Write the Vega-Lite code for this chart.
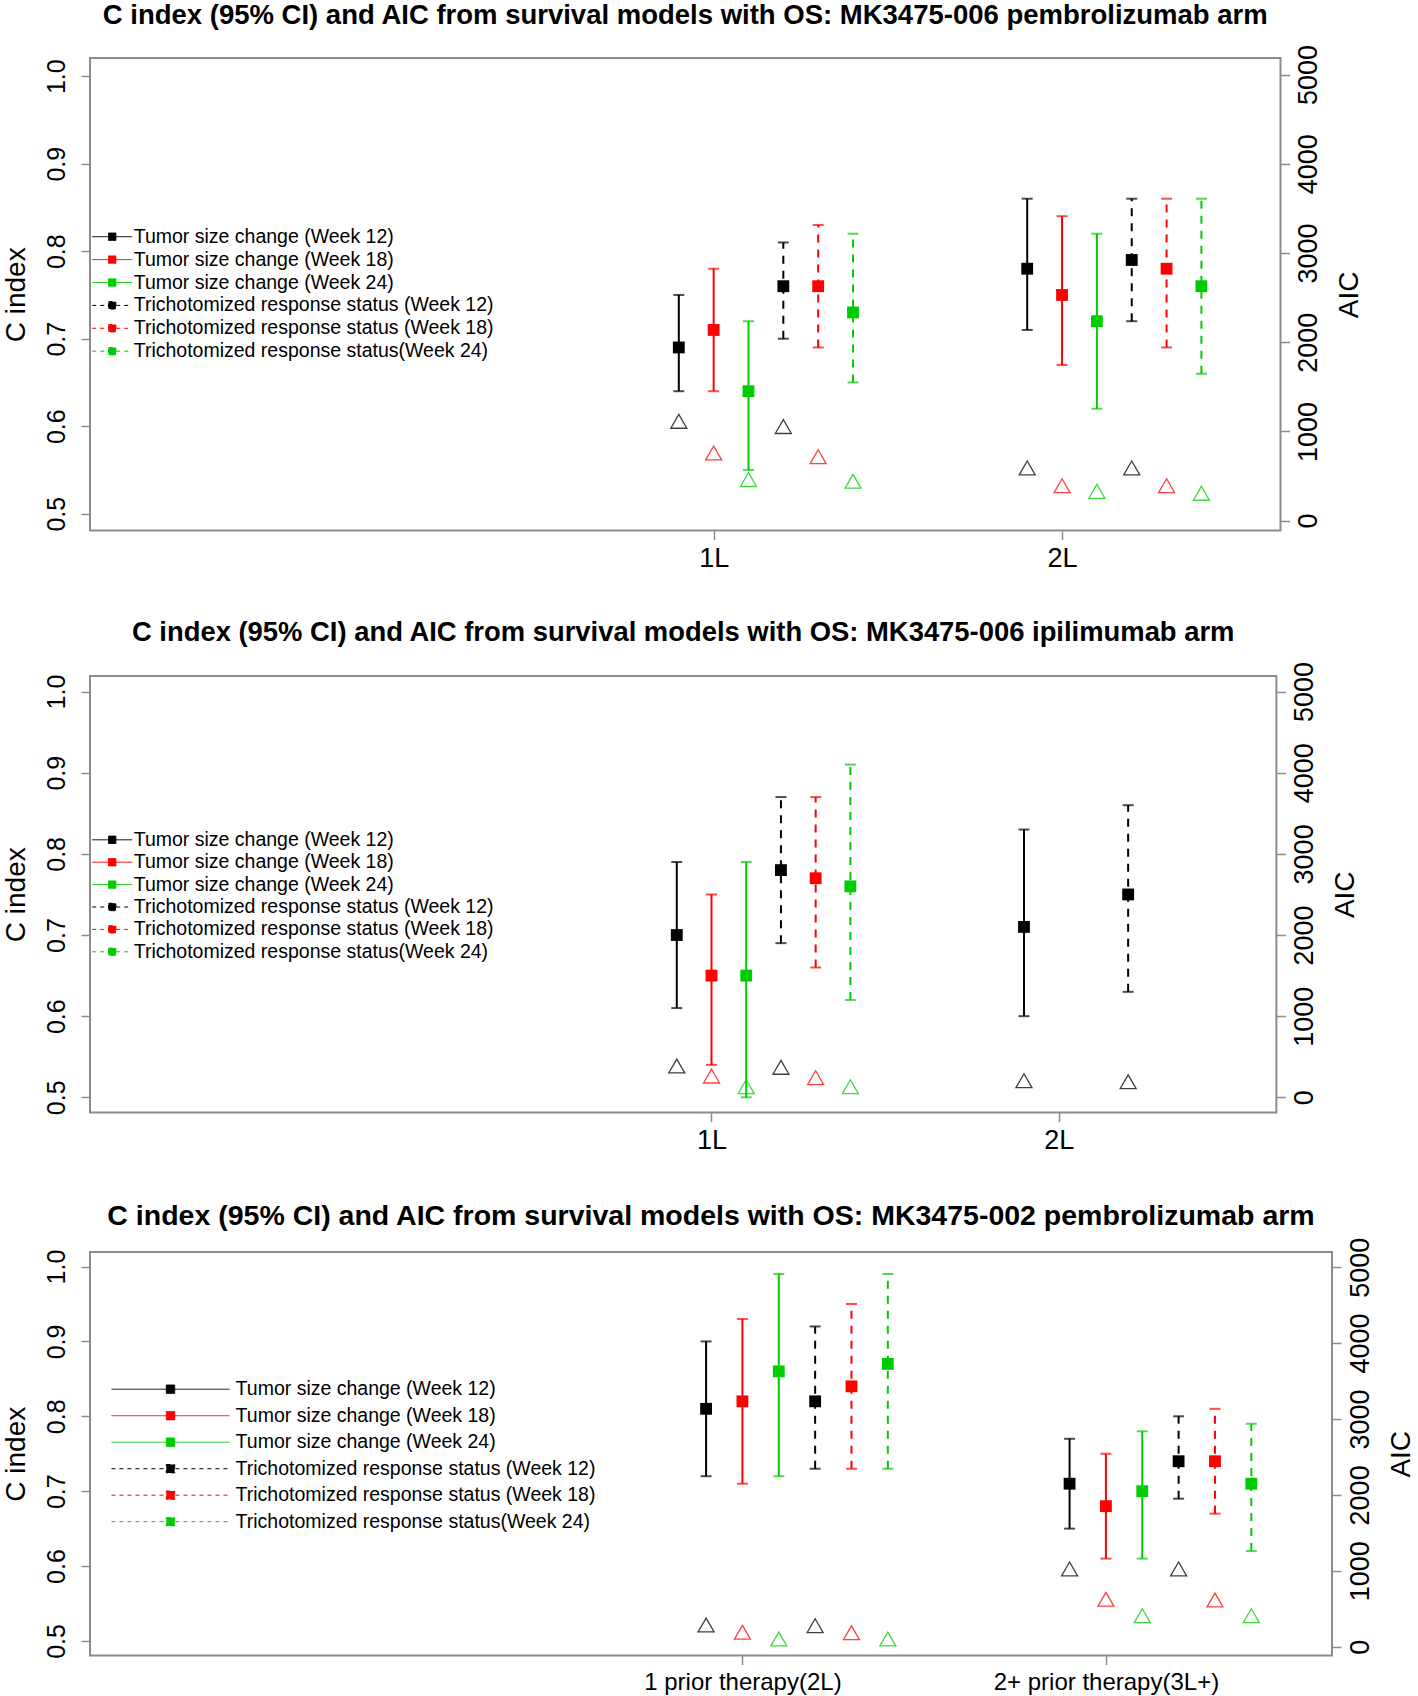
{
  "$schema": "https://vega.github.io/schema/vega-lite/v6.json",
  "padding": {"left": 1, "top": 1, "right": 0, "bottom": 0},
  "columns": 1,
  "align": "none",
  "spacing": 45,
  "datasets": {
    "p1": [
      {"grp": "1L", "x": 0.9, "kind": "Tumor", "series": "Tumor size change (Week 12)", "c": 0.69, "lo": 0.64, "hi": 0.75, "aic": 1113},
      {"grp": "1L", "x": 1.0, "kind": "Tumor", "series": "Tumor size change (Week 18)", "c": 0.71, "lo": 0.64, "hi": 0.78, "aic": 759},
      {"grp": "1L", "x": 1.1, "kind": "Tumor", "series": "Tumor size change (Week 24)", "c": 0.64, "lo": 0.55, "hi": 0.72, "aic": 460},
      {"grp": "1L", "x": 1.2, "kind": "Trich", "series": "Trichotomized response status (Week 12)", "c": 0.76, "lo": 0.70, "hi": 0.81, "aic": 1054},
      {"grp": "1L", "x": 1.3, "kind": "Trich", "series": "Trichotomized response status (Week 18)", "c": 0.76, "lo": 0.69, "hi": 0.83, "aic": 717},
      {"grp": "1L", "x": 1.4, "kind": "Trich", "series": "Trichotomized response status(Week 24)", "c": 0.73, "lo": 0.65, "hi": 0.82, "aic": 441},
      {"grp": "2L", "x": 1.9, "kind": "Tumor", "series": "Tumor size change (Week 12)", "c": 0.78, "lo": 0.71, "hi": 0.86, "aic": 591},
      {"grp": "2L", "x": 2.0, "kind": "Tumor", "series": "Tumor size change (Week 18)", "c": 0.75, "lo": 0.67, "hi": 0.84, "aic": 392},
      {"grp": "2L", "x": 2.1, "kind": "Tumor", "series": "Tumor size change (Week 24)", "c": 0.72, "lo": 0.62, "hi": 0.82, "aic": 328},
      {"grp": "2L", "x": 2.2, "kind": "Trich", "series": "Trichotomized response status (Week 12)", "c": 0.79, "lo": 0.72, "hi": 0.86, "aic": 591},
      {"grp": "2L", "x": 2.3, "kind": "Trich", "series": "Trichotomized response status (Week 18)", "c": 0.78, "lo": 0.69, "hi": 0.86, "aic": 392},
      {"grp": "2L", "x": 2.4, "kind": "Trich", "series": "Trichotomized response status(Week 24)", "c": 0.76, "lo": 0.66, "hi": 0.86, "aic": 306}
    ],
    "p2": [
      {"grp": "1L", "x": 0.9, "kind": "Tumor", "series": "Tumor size change (Week 12)", "c": 0.70, "lo": 0.61, "hi": 0.79, "aic": 386},
      {"grp": "1L", "x": 1.0, "kind": "Tumor", "series": "Tumor size change (Week 18)", "c": 0.65, "lo": 0.54, "hi": 0.75, "aic": 262},
      {"grp": "1L", "x": 1.1, "kind": "Tumor", "series": "Tumor size change (Week 24)", "c": 0.65, "lo": 0.50, "hi": 0.79, "aic": 131},
      {"grp": "1L", "x": 1.2, "kind": "Trich", "series": "Trichotomized response status (Week 12)", "c": 0.78, "lo": 0.69, "hi": 0.87, "aic": 370},
      {"grp": "1L", "x": 1.3, "kind": "Trich", "series": "Trichotomized response status (Week 18)", "c": 0.77, "lo": 0.66, "hi": 0.87, "aic": 242},
      {"grp": "1L", "x": 1.4, "kind": "Trich", "series": "Trichotomized response status(Week 24)", "c": 0.76, "lo": 0.62, "hi": 0.91, "aic": 131},
      {"grp": "2L", "x": 1.9, "kind": "Tumor", "series": "Tumor size change (Week 12)", "c": 0.71, "lo": 0.60, "hi": 0.83, "aic": 205},
      {"grp": "2L", "x": 2.2, "kind": "Trich", "series": "Trichotomized response status (Week 12)", "c": 0.75, "lo": 0.63, "hi": 0.86, "aic": 192}
    ],
    "p3": [
      {"grp": "1 prior therapy(2L)", "x": 0.9, "kind": "Tumor", "series": "Tumor size change (Week 12)", "c": 0.81, "lo": 0.72, "hi": 0.90, "aic": 286},
      {"grp": "1 prior therapy(2L)", "x": 1.0, "kind": "Tumor", "series": "Tumor size change (Week 18)", "c": 0.82, "lo": 0.71, "hi": 0.93, "aic": 190},
      {"grp": "1 prior therapy(2L)", "x": 1.1, "kind": "Tumor", "series": "Tumor size change (Week 24)", "c": 0.86, "lo": 0.72, "hi": 0.99, "aic": 101},
      {"grp": "1 prior therapy(2L)", "x": 1.2, "kind": "Trich", "series": "Trichotomized response status (Week 12)", "c": 0.82, "lo": 0.73, "hi": 0.92, "aic": 277},
      {"grp": "1 prior therapy(2L)", "x": 1.3, "kind": "Trich", "series": "Trichotomized response status (Week 18)", "c": 0.84, "lo": 0.73, "hi": 0.95, "aic": 184},
      {"grp": "1 prior therapy(2L)", "x": 1.4, "kind": "Trich", "series": "Trichotomized response status(Week 24)", "c": 0.87, "lo": 0.73, "hi": 0.99, "aic": 101},
      {"grp": "2+ prior therapy(3L+)", "x": 1.9, "kind": "Tumor", "series": "Tumor size change (Week 12)", "c": 0.71, "lo": 0.65, "hi": 0.77, "aic": 1024},
      {"grp": "2+ prior therapy(3L+)", "x": 2.0, "kind": "Tumor", "series": "Tumor size change (Week 18)", "c": 0.68, "lo": 0.61, "hi": 0.75, "aic": 625},
      {"grp": "2+ prior therapy(3L+)", "x": 2.1, "kind": "Tumor", "series": "Tumor size change (Week 24)", "c": 0.70, "lo": 0.61, "hi": 0.78, "aic": 408},
      {"grp": "2+ prior therapy(3L+)", "x": 2.2, "kind": "Trich", "series": "Trichotomized response status (Week 12)", "c": 0.74, "lo": 0.69, "hi": 0.80, "aic": 1024},
      {"grp": "2+ prior therapy(3L+)", "x": 2.3, "kind": "Trich", "series": "Trichotomized response status (Week 18)", "c": 0.74, "lo": 0.67, "hi": 0.81, "aic": 615},
      {"grp": "2+ prior therapy(3L+)", "x": 2.4, "kind": "Trich", "series": "Trichotomized response status(Week 24)", "c": 0.71, "lo": 0.62, "hi": 0.79, "aic": 408}
    ]
  },
  "concat": [
    {
      "width": 1190.5,
      "height": 472.6,
      "title": {"text": "C index (95% CI) and AIC from survival models with OS: MK3475-006 pembrolizumab arm", "offset": 15, "fontSize": 27.5},
      "data": {"name": "p1"},
      "encoding": {
        "x": {"field": "x", "type": "quantitative", "scale": {"domain": [-0.79, 2.627], "nice": false, "zero": false}, "axis": {"values": [1, 2], "labelExpr": "datum.value == 1 ? '1L' : '2L'", "title": null}}
      },
      "layer": [
        {
          "layer": [
            {"transform": [{"filter": "datum.kind == 'Tumor'"}], "mark": {"type": "rule", "strokeWidth": 2},
             "encoding": {
               "y": {"field": "lo", "type": "quantitative", "scale": {"domain": [0.4807, 1.0208], "nice": false, "zero": false}, "axis": {"title": "C index", "values": [0.5, 0.6, 0.7, 0.8, 0.9, 1.0], "format": ".1f"}},
               "y2": {"field": "hi"},
               "color": {"field": "series", "type": "nominal", "scale": {"domain": ["Tumor size change (Week 12)", "Tumor size change (Week 18)", "Tumor size change (Week 24)", "Trichotomized response status (Week 12)", "Trichotomized response status (Week 18)", "Trichotomized response status(Week 24)"], "range": ["#000000", "#FF0000", "#00CD00", "#000000", "#FF0000", "#00CD00"]},
                 "legend": {"title": null, "orient": "none", "legendX": 1.7, "legendY": 168.2, "direction": "vertical", "padding": 0, "symbolType": "M-1,0L3,0M0.63,-0.37L1.37,-0.37L1.37,0.37L0.63,0.37Z", "symbolSize": 400, "symbolStrokeWidth": 1, "labelFontSize": 19.5, "labelColor": "#000000", "labelOffset": 21, "labelLimit": 800, "rowPadding": 2.9,
                   "encode": {"symbols": {"update": {"fill": {"signal": "indexof(datum.value,'12')>=0 ? '#000000' : indexof(datum.value,'18')>=0 ? '#FF0000' : '#00CD00'"}, "stroke": {"signal": "indexof(datum.value,'12')>=0 ? '#000000' : indexof(datum.value,'18')>=0 ? '#FF0000' : '#00CD00'"}, "strokeDash": {"signal": "indexof(datum.value,'Tricho')>=0 ? [4,4] : [1,0]"}, "strokeWidth": {"value": 1}, "opacity": {"value": 1}}}}}}
             }},
            {"transform": [{"filter": "datum.kind == 'Trich'"}], "mark": {"type": "rule", "strokeWidth": 2, "strokeDash": [8, 7]},
             "encoding": {
               "y": {"field": "lo", "type": "quantitative", "scale": {"domain": [0.4807, 1.0208], "nice": false, "zero": false}, "axis": {"title": "C index", "values": [0.5, 0.6, 0.7, 0.8, 0.9, 1.0], "format": ".1f"}},
               "y2": {"field": "hi"},
               "color": {"field": "series", "type": "nominal", "scale": {"domain": ["Tumor size change (Week 12)", "Tumor size change (Week 18)", "Tumor size change (Week 24)", "Trichotomized response status (Week 12)", "Trichotomized response status (Week 18)", "Trichotomized response status(Week 24)"], "range": ["#000000", "#FF0000", "#00CD00", "#000000", "#FF0000", "#00CD00"]}, "legend": null}
             }},
            {"mark": {"type": "tick", "orient": "horizontal", "size": 11, "thickness": 2},
             "encoding": {
               "y": {"field": "lo", "type": "quantitative", "scale": {"domain": [0.4807, 1.0208], "nice": false, "zero": false}, "axis": {"title": "C index", "values": [0.5, 0.6, 0.7, 0.8, 0.9, 1.0], "format": ".1f"}},
               "color": {"field": "series", "type": "nominal", "scale": {"domain": ["Tumor size change (Week 12)", "Tumor size change (Week 18)", "Tumor size change (Week 24)", "Trichotomized response status (Week 12)", "Trichotomized response status (Week 18)", "Trichotomized response status(Week 24)"], "range": ["#000000", "#FF0000", "#00CD00", "#000000", "#FF0000", "#00CD00"]}, "legend": null}
             }},
            {"mark": {"type": "tick", "orient": "horizontal", "size": 11, "thickness": 2},
             "encoding": {
               "y": {"field": "hi", "type": "quantitative", "scale": {"domain": [0.4807, 1.0208], "nice": false, "zero": false}, "axis": {"title": "C index", "values": [0.5, 0.6, 0.7, 0.8, 0.9, 1.0], "format": ".1f"}},
               "color": {"field": "series", "type": "nominal", "scale": {"domain": ["Tumor size change (Week 12)", "Tumor size change (Week 18)", "Tumor size change (Week 24)", "Trichotomized response status (Week 12)", "Trichotomized response status (Week 18)", "Trichotomized response status(Week 24)"], "range": ["#000000", "#FF0000", "#00CD00", "#000000", "#FF0000", "#00CD00"]}, "legend": null}
             }},
            {"mark": {"type": "point", "shape": "square", "filled": true, "size": 140, "opacity": 1},
             "encoding": {
               "y": {"field": "c", "type": "quantitative", "scale": {"domain": [0.4807, 1.0208], "nice": false, "zero": false}, "axis": {"title": "C index", "values": [0.5, 0.6, 0.7, 0.8, 0.9, 1.0], "format": ".1f"}},
               "color": {"field": "series", "type": "nominal", "scale": {"domain": ["Tumor size change (Week 12)", "Tumor size change (Week 18)", "Tumor size change (Week 24)", "Trichotomized response status (Week 12)", "Trichotomized response status (Week 18)", "Trichotomized response status(Week 24)"], "range": ["#000000", "#FF0000", "#00CD00", "#000000", "#FF0000", "#00CD00"]}, "legend": null}
             }}
          ]
        },
        {"mark": {"type": "point", "shape": "triangle-up", "filled": false, "size": 256, "strokeWidth": 1.3, "opacity": 0.75},
         "encoding": {
           "y": {"field": "aic", "type": "quantitative", "scale": {"domain": [-112, 5186], "nice": false, "zero": false}, "axis": {"orient": "right", "title": "AIC", "values": [0, 1000, 2000, 3000, 4000, 5000], "format": "d"}},
           "color": {"field": "series", "type": "nominal", "scale": {"domain": ["Tumor size change (Week 12)", "Tumor size change (Week 18)", "Tumor size change (Week 24)", "Trichotomized response status (Week 12)", "Trichotomized response status (Week 18)", "Trichotomized response status(Week 24)"], "range": ["#000000", "#FF0000", "#00CD00", "#000000", "#FF0000", "#00CD00"]}, "legend": null}
         }}
      ],
      "resolve": {"scale": {"y": "independent"}}
    },
    {
      "width": 1186.4,
      "height": 436.5,
      "title": {"text": "C index (95% CI) and AIC from survival models with OS: MK3475-006 ipilimumab arm", "offset": 15, "fontSize": 27.4},
      "data": {"name": "p2"},
      "encoding": {
        "x": {"field": "x", "type": "quantitative", "scale": {"domain": [-0.79, 2.627], "nice": false, "zero": false}, "axis": {"values": [1, 2], "labelExpr": "datum.value == 1 ? '1L' : '2L'", "title": null}}
      },
      "layer": [
        {
          "layer": [
            {"transform": [{"filter": "datum.kind == 'Tumor'"}], "mark": {"type": "rule", "strokeWidth": 2},
             "encoding": {
               "y": {"field": "lo", "type": "quantitative", "scale": {"domain": [0.4813, 1.0192], "nice": false, "zero": false}, "axis": {"title": "C index", "values": [0.5, 0.6, 0.7, 0.8, 0.9, 1.0], "format": ".1f"}},
               "y2": {"field": "hi"},
               "color": {"field": "series", "type": "nominal", "scale": {"domain": ["Tumor size change (Week 12)", "Tumor size change (Week 18)", "Tumor size change (Week 24)", "Trichotomized response status (Week 12)", "Trichotomized response status (Week 18)", "Trichotomized response status(Week 24)"], "range": ["#000000", "#FF0000", "#00CD00", "#000000", "#FF0000", "#00CD00"]},
                 "legend": {"title": null, "orient": "none", "legendX": 1.7, "legendY": 153.3, "direction": "vertical", "padding": 0, "symbolType": "M-1,0L3,0M0.63,-0.37L1.37,-0.37L1.37,0.37L0.63,0.37Z", "symbolSize": 400, "symbolStrokeWidth": 1, "labelFontSize": 19.5, "labelColor": "#000000", "labelOffset": 21, "labelLimit": 800, "rowPadding": 2.4,
                   "encode": {"symbols": {"update": {"fill": {"signal": "indexof(datum.value,'12')>=0 ? '#000000' : indexof(datum.value,'18')>=0 ? '#FF0000' : '#00CD00'"}, "stroke": {"signal": "indexof(datum.value,'12')>=0 ? '#000000' : indexof(datum.value,'18')>=0 ? '#FF0000' : '#00CD00'"}, "strokeDash": {"signal": "indexof(datum.value,'Tricho')>=0 ? [4,4] : [1,0]"}, "strokeWidth": {"value": 1}, "opacity": {"value": 1}}}}}}
             }},
            {"transform": [{"filter": "datum.kind == 'Trich'"}], "mark": {"type": "rule", "strokeWidth": 2, "strokeDash": [8, 7]},
             "encoding": {
               "y": {"field": "lo", "type": "quantitative", "scale": {"domain": [0.4813, 1.0192], "nice": false, "zero": false}, "axis": {"title": "C index", "values": [0.5, 0.6, 0.7, 0.8, 0.9, 1.0], "format": ".1f"}},
               "y2": {"field": "hi"},
               "color": {"field": "series", "type": "nominal", "scale": {"domain": ["Tumor size change (Week 12)", "Tumor size change (Week 18)", "Tumor size change (Week 24)", "Trichotomized response status (Week 12)", "Trichotomized response status (Week 18)", "Trichotomized response status(Week 24)"], "range": ["#000000", "#FF0000", "#00CD00", "#000000", "#FF0000", "#00CD00"]}, "legend": null}
             }},
            {"mark": {"type": "tick", "orient": "horizontal", "size": 11, "thickness": 2},
             "encoding": {
               "y": {"field": "lo", "type": "quantitative", "scale": {"domain": [0.4813, 1.0192], "nice": false, "zero": false}, "axis": {"title": "C index", "values": [0.5, 0.6, 0.7, 0.8, 0.9, 1.0], "format": ".1f"}},
               "color": {"field": "series", "type": "nominal", "scale": {"domain": ["Tumor size change (Week 12)", "Tumor size change (Week 18)", "Tumor size change (Week 24)", "Trichotomized response status (Week 12)", "Trichotomized response status (Week 18)", "Trichotomized response status(Week 24)"], "range": ["#000000", "#FF0000", "#00CD00", "#000000", "#FF0000", "#00CD00"]}, "legend": null}
             }},
            {"mark": {"type": "tick", "orient": "horizontal", "size": 11, "thickness": 2},
             "encoding": {
               "y": {"field": "hi", "type": "quantitative", "scale": {"domain": [0.4813, 1.0192], "nice": false, "zero": false}, "axis": {"title": "C index", "values": [0.5, 0.6, 0.7, 0.8, 0.9, 1.0], "format": ".1f"}},
               "color": {"field": "series", "type": "nominal", "scale": {"domain": ["Tumor size change (Week 12)", "Tumor size change (Week 18)", "Tumor size change (Week 24)", "Trichotomized response status (Week 12)", "Trichotomized response status (Week 18)", "Trichotomized response status(Week 24)"], "range": ["#000000", "#FF0000", "#00CD00", "#000000", "#FF0000", "#00CD00"]}, "legend": null}
             }},
            {"mark": {"type": "point", "shape": "square", "filled": true, "size": 140, "opacity": 1},
             "encoding": {
               "y": {"field": "c", "type": "quantitative", "scale": {"domain": [0.4813, 1.0192], "nice": false, "zero": false}, "axis": {"title": "C index", "values": [0.5, 0.6, 0.7, 0.8, 0.9, 1.0], "format": ".1f"}},
               "color": {"field": "series", "type": "nominal", "scale": {"domain": ["Tumor size change (Week 12)", "Tumor size change (Week 18)", "Tumor size change (Week 24)", "Trichotomized response status (Week 12)", "Trichotomized response status (Week 18)", "Trichotomized response status(Week 24)"], "range": ["#000000", "#FF0000", "#00CD00", "#000000", "#FF0000", "#00CD00"]}, "legend": null}
             }}
          ]
        },
        {"mark": {"type": "point", "shape": "triangle-up", "filled": false, "size": 256, "strokeWidth": 1.3, "opacity": 0.75},
         "encoding": {
           "y": {"field": "aic", "type": "quantitative", "scale": {"domain": [-187, 5192], "nice": false, "zero": false}, "axis": {"orient": "right", "title": "AIC", "values": [0, 1000, 2000, 3000, 4000, 5000], "format": "d"}},
           "color": {"field": "series", "type": "nominal", "scale": {"domain": ["Tumor size change (Week 12)", "Tumor size change (Week 18)", "Tumor size change (Week 24)", "Trichotomized response status (Week 12)", "Trichotomized response status (Week 18)", "Trichotomized response status(Week 24)"], "range": ["#000000", "#FF0000", "#00CD00", "#000000", "#FF0000", "#00CD00"]}, "legend": null}
         }}
      ],
      "resolve": {"scale": {"y": "independent"}}
    },
    {
      "width": 1242,
      "height": 403.5,
      "title": {"text": "C index (95% CI) and AIC from survival models with OS: MK3475-002 pembrolizumab arm", "offset": 7, "fontSize": 28.5},
      "data": {"name": "p3"},
      "encoding": {
        "x": {"field": "x", "type": "quantitative", "scale": {"domain": [-0.795, 2.622], "nice": false, "zero": false}, "axis": {"values": [1, 2], "labelExpr": "datum.value == 1 ? '1 prior therapy(2L)' : '2+ prior therapy(3L+)'", "title": null, "labelFontSize": 24, "labelLimit": 500}}
      },
      "layer": [
        {
          "layer": [
            {"transform": [{"filter": "datum.kind == 'Tumor'"}], "mark": {"type": "rule", "strokeWidth": 2},
             "encoding": {
               "y": {"field": "lo", "type": "quantitative", "scale": {"domain": [0.4806, 1.0194], "nice": false, "zero": false}, "axis": {"title": "C index", "values": [0.5, 0.6, 0.7, 0.8, 0.9, 1.0], "format": ".1f"}},
               "y2": {"field": "hi"},
               "color": {"field": "series", "type": "nominal", "scale": {"domain": ["Tumor size change (Week 12)", "Tumor size change (Week 18)", "Tumor size change (Week 24)", "Trichotomized response status (Week 12)", "Trichotomized response status (Week 18)", "Trichotomized response status(Week 24)"], "range": ["#000000", "#FF0000", "#00CD00", "#000000", "#FF0000", "#00CD00"]},
                 "legend": {"title": null, "orient": "none", "legendX": 21, "legendY": 126.7, "direction": "vertical", "padding": 0, "symbolType": "M-1,0L10.8,0M4.48,-0.42L5.32,-0.42L5.32,0.42L4.48,0.42Z", "symbolSize": 400, "symbolStrokeWidth": 1, "labelFontSize": 19.5, "labelColor": "#000000", "labelOffset": 103.6, "labelLimit": 800, "rowPadding": 6.5,
                   "encode": {"symbols": {"update": {"fill": {"signal": "indexof(datum.value,'12')>=0 ? '#000000' : indexof(datum.value,'18')>=0 ? '#FF0000' : '#00CD00'"}, "stroke": {"signal": "indexof(datum.value,'12')>=0 ? '#000000' : indexof(datum.value,'18')>=0 ? '#FF0000' : '#00CD00'"}, "strokeDash": {"signal": "indexof(datum.value,'Tricho')>=0 ? [4,4] : [1,0]"}, "strokeWidth": {"value": 1}, "opacity": {"value": 1}}}}}}
             }},
            {"transform": [{"filter": "datum.kind == 'Trich'"}], "mark": {"type": "rule", "strokeWidth": 2, "strokeDash": [8, 7]},
             "encoding": {
               "y": {"field": "lo", "type": "quantitative", "scale": {"domain": [0.4806, 1.0194], "nice": false, "zero": false}, "axis": {"title": "C index", "values": [0.5, 0.6, 0.7, 0.8, 0.9, 1.0], "format": ".1f"}},
               "y2": {"field": "hi"},
               "color": {"field": "series", "type": "nominal", "scale": {"domain": ["Tumor size change (Week 12)", "Tumor size change (Week 18)", "Tumor size change (Week 24)", "Trichotomized response status (Week 12)", "Trichotomized response status (Week 18)", "Trichotomized response status(Week 24)"], "range": ["#000000", "#FF0000", "#00CD00", "#000000", "#FF0000", "#00CD00"]}, "legend": null}
             }},
            {"mark": {"type": "tick", "orient": "horizontal", "size": 11, "thickness": 2},
             "encoding": {
               "y": {"field": "lo", "type": "quantitative", "scale": {"domain": [0.4806, 1.0194], "nice": false, "zero": false}, "axis": {"title": "C index", "values": [0.5, 0.6, 0.7, 0.8, 0.9, 1.0], "format": ".1f"}},
               "color": {"field": "series", "type": "nominal", "scale": {"domain": ["Tumor size change (Week 12)", "Tumor size change (Week 18)", "Tumor size change (Week 24)", "Trichotomized response status (Week 12)", "Trichotomized response status (Week 18)", "Trichotomized response status(Week 24)"], "range": ["#000000", "#FF0000", "#00CD00", "#000000", "#FF0000", "#00CD00"]}, "legend": null}
             }},
            {"mark": {"type": "tick", "orient": "horizontal", "size": 11, "thickness": 2},
             "encoding": {
               "y": {"field": "hi", "type": "quantitative", "scale": {"domain": [0.4806, 1.0194], "nice": false, "zero": false}, "axis": {"title": "C index", "values": [0.5, 0.6, 0.7, 0.8, 0.9, 1.0], "format": ".1f"}},
               "color": {"field": "series", "type": "nominal", "scale": {"domain": ["Tumor size change (Week 12)", "Tumor size change (Week 18)", "Tumor size change (Week 24)", "Trichotomized response status (Week 12)", "Trichotomized response status (Week 18)", "Trichotomized response status(Week 24)"], "range": ["#000000", "#FF0000", "#00CD00", "#000000", "#FF0000", "#00CD00"]}, "legend": null}
             }},
            {"mark": {"type": "point", "shape": "square", "filled": true, "size": 140, "opacity": 1},
             "encoding": {
               "y": {"field": "c", "type": "quantitative", "scale": {"domain": [0.4806, 1.0194], "nice": false, "zero": false}, "axis": {"title": "C index", "values": [0.5, 0.6, 0.7, 0.8, 0.9, 1.0], "format": ".1f"}},
               "color": {"field": "series", "type": "nominal", "scale": {"domain": ["Tumor size change (Week 12)", "Tumor size change (Week 18)", "Tumor size change (Week 24)", "Trichotomized response status (Week 12)", "Trichotomized response status (Week 18)", "Trichotomized response status(Week 24)"], "range": ["#000000", "#FF0000", "#00CD00", "#000000", "#FF0000", "#00CD00"]}, "legend": null}
             }}
          ]
        },
        {"mark": {"type": "point", "shape": "triangle-up", "filled": false, "size": 256, "strokeWidth": 1.3, "opacity": 0.75},
         "encoding": {
           "y": {"field": "aic", "type": "quantitative", "scale": {"domain": [-116, 5200], "nice": false, "zero": false}, "axis": {"orient": "right", "title": "AIC", "values": [0, 1000, 2000, 3000, 4000, 5000], "format": "d"}},
           "color": {"field": "series", "type": "nominal", "scale": {"domain": ["Tumor size change (Week 12)", "Tumor size change (Week 18)", "Tumor size change (Week 24)", "Trichotomized response status (Week 12)", "Trichotomized response status (Week 18)", "Trichotomized response status(Week 24)"], "range": ["#000000", "#FF0000", "#00CD00", "#000000", "#FF0000", "#00CD00"]}, "legend": null}
         }}
      ],
      "resolve": {"scale": {"y": "independent"}}
    }
  ],
  "resolve": {"scale": {"color": "independent"}},
  "config": {
    "font": "Liberation Sans",
    "background": "#ffffff",
    "view": {"stroke": "#8c8c8c", "strokeWidth": 2},
    "title": {"font": "Liberation Sans", "fontSize": 27, "fontWeight": "bold", "color": "#000000", "anchor": "middle", "frame": "group"},
    "axis": {"grid": false, "domain": false, "tickColor": "#8c8c8c", "tickWidth": 1.5, "tickSize": 9, "labelColor": "#000000", "titleColor": "#000000", "titleFontWeight": "normal", "labelFont": "Liberation Sans", "titleFont": "Liberation Sans", "labelFlush": false, "labelOverlap": false, "labelBound": false, "labelLimit": 500},
    "axisLeft": {"labelFontSize": 25, "labelAngle": -90, "labelAlign": "center", "labelBaseline": "bottom", "labelPadding": 12, "titleFontSize": 28, "titlePadding": 14},
    "axisRight": {"labelFontSize": 27, "labelAngle": -90, "labelAlign": "center", "labelBaseline": "top", "labelPadding": 6, "titleFontSize": 28, "titleAngle": -90, "titleBaseline": "top", "titlePadding": 14},
    "axisBottom": {"labelFontSize": 27, "labelPadding": 6}
  }
}
